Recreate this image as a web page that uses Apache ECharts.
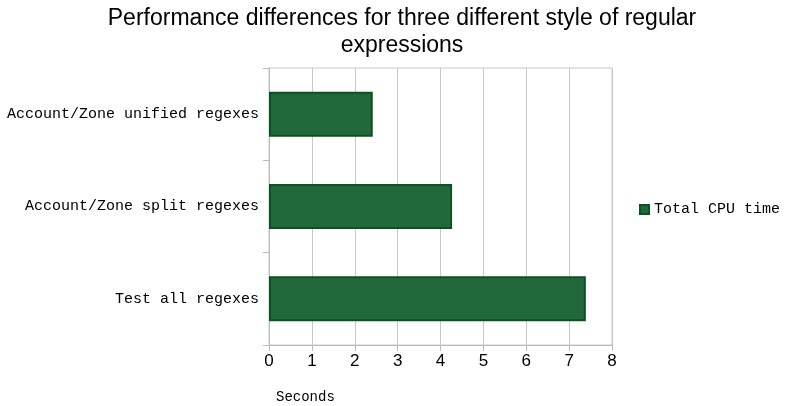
<!DOCTYPE html>
<html>
<head>
<meta charset="utf-8">
<script src="https://cdn.jsdelivr.net/npm/echarts@6/dist/echarts.min.js"></script>
<style>html,body{margin:0;padding:0;background:#fff}#chart{width:785px;height:406px}</style>
</head>
<body>
<div id="chart"></div>
<script>
const categories = ["Test all regexes", "Account/Zone split regexes", "Account/Zone unified regexes"]
const cpuTime = [7.39, 4.27, 2.42]
const xTicks = [0, 1, 2, 3, 4, 5, 6, 7, 8]

const chart = echarts.init(document.getElementById("chart"))
const mono = "Liberation Mono"
chart.setOption({
  animation: false,
  title: {
    text: "Performance differences for three different style of regular\nexpressions",
    left: 397, top: 0, textAlign: "center",
    textStyle: { fontFamily: "Liberation Sans", fontSize: 23, fontWeight: "normal", color: "#000", lineHeight: 27 }
  },
  legend: {
    right: 0, top: 197, orient: "vertical",
    itemWidth: 9, itemHeight: 9, itemGap: 4,
    icon: "rect",
    textStyle: { fontFamily: mono, fontSize: 15, color: "#000" },
    data: ["Total CPU time"]
  },
  grid: { left: 269, right: 173, top: 68, bottom: 61, show: true, borderColor: "#c8c8c8", borderWidth: 1 },
  xAxis: {
    type: "value", min: xTicks[0], max: xTicks[xTicks.length - 1], interval: 1,
    name: "Seconds", nameLocation: "start", nameGap: 0,
    nameTextStyle: { fontFamily: mono, fontSize: 14, color: "#000", align: "left", verticalAlign: "top", padding: [45, 0, 0, 7] },
    axisLine: { show: true, lineStyle: { color: "#bbb" } },
    axisTick: { show: true, length: 6, inside: false, lineStyle: { color: "#bbb" } },
    axisLabel: { fontFamily: "Liberation Sans", fontSize: 17, color: "#000", margin: 8 },
    splitLine: { show: true, lineStyle: { color: "#c8c8c8" } }
  },
  yAxis: {
    type: "category", data: categories,
    axisLine: { show: true, lineStyle: { color: "#bbb" } },
    axisTick: { show: true, length: 6, lineStyle: { color: "#bbb" } },
    axisLabel: { fontFamily: mono, fontSize: 15, color: "#000", margin: 10 },
    splitLine: { show: false }
  },
  series: [{
    name: "Total CPU time", type: "bar", data: cpuTime, barWidth: 45,
    itemStyle: { color: "#21693b", borderColor: "#0c5220", borderWidth: 2 }
  }]
})
</script>
</body>
</html>
